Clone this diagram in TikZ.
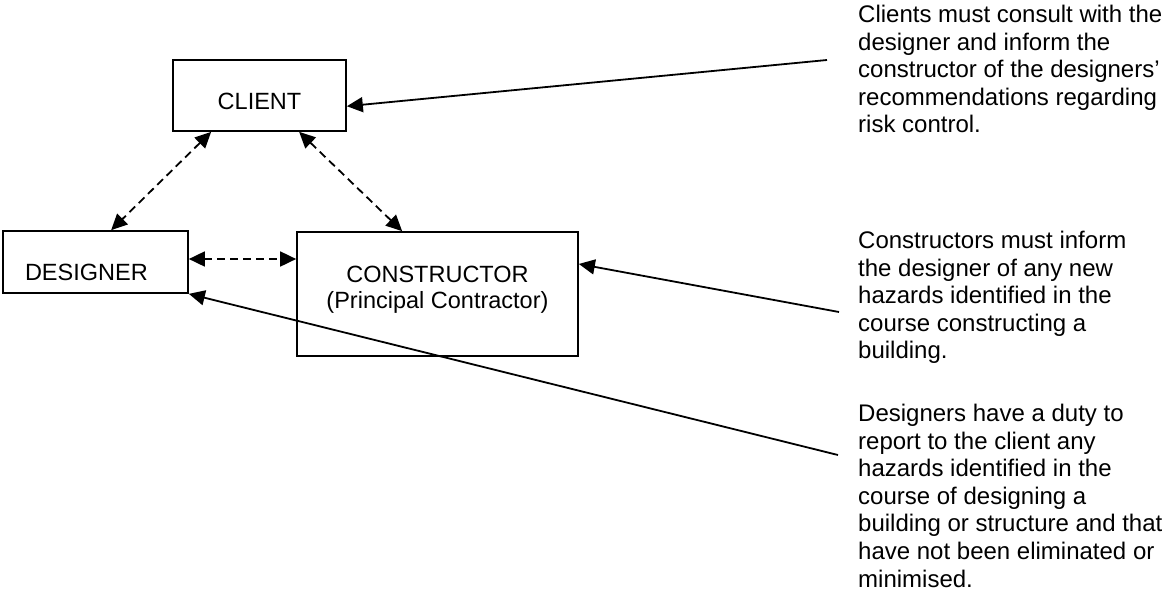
\documentclass[tikz,border=0pt]{standalone}
\usepackage{fontspec}
\setmainfont{Liberation Sans}
\usetikzlibrary{arrows.meta}
\tikzset{
  box/.style={draw, line width=1.7pt, inner sep=0pt, font=\fontsize{23.5}{26}\selectfont},
  conn/.style={line width=1.8pt},
  tipone/.style={-{Triangle[length=16pt,width=15pt]}},
  tiptwo/.style={{Triangle[length=16pt,width=15pt]}-{Triangle[length=16pt,width=15pt]}, dash pattern=on 8pt off 5pt},
  note/.style={anchor=north west, inner sep=0pt, align=left, font=\fontsize{24}{27.6}\selectfont}
}
\begin{document}
\begin{tikzpicture}[x=1pt,y=-1pt]
\useasboundingbox (0,0) rectangle (1167,608);
% boxes
\node[box, minimum width=173pt, minimum height=71pt, text height=28pt, text depth=0pt] (client) at (259.5,95.5) {CLIENT};
\node[box, minimum width=185pt, minimum height=62pt, text height=37pt, text depth=0pt, text width=141pt, inner xsep=22pt, align=left] (designer) at (95.5,262) {DESIGNER};
\node[box, minimum width=281pt, minimum height=124pt, align=center] (constructor) at (437.5,294) {CONSTRUCTOR\\(Principal Contractor)\rule[-13pt]{0pt}{0pt}};
% notes
\node[note] (n1) at (858,5) {Clients must consult with the\\designer and inform the\\constructor of the designers'\\recommendations regarding\\risk control.};
\node[note] (n2) at (858,231) {Constructors must inform\\the designer of any new\\hazards identified in the\\course constructing a\\building.};
\node[note] (n3) at (858,404) {Designers have a duty to\\report to the client any\\hazards identified in the\\course of designing a\\building or structure and that\\have not been eliminated or\\minimised.};
% free ends of the note connectors
\coordinate (a1) at (827,60);
\coordinate (a2) at (839,312);
\coordinate (a3) at (838,455);
% connectors
\draw[conn, tipone] (a1) -- (client.-7);
\draw[conn, tipone] (a2) -- (constructor.12);
\draw[conn, tipone] (a3) -- (designer.south east);
\draw[conn, tiptwo] ([xshift=39pt]client.south west) -- ([xshift=109pt]designer.north west);
\draw[conn, tiptwo] ([xshift=127pt]client.south west) -- ([xshift=106pt]constructor.north west);
\draw[conn, tiptwo] ([yshift=3pt]designer.east) -- ([yshift=35pt]constructor.west);
\end{tikzpicture}
\end{document}
